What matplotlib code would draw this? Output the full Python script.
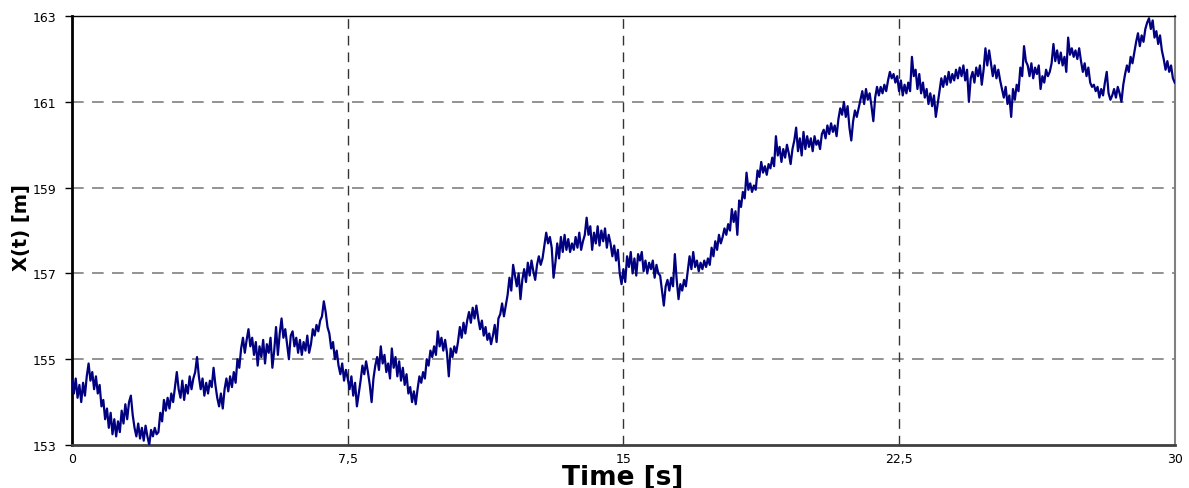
import numpy as np
import matplotlib
matplotlib.use("Agg")
import matplotlib.pyplot as plt

plt.rcParams['font.family'] = ['DejaVu Sans']

t_step = 0.05
x_rows = [
    [154.50, 154.20, 154.55, 154.10, 154.40, 154.00, 154.45, 154.15, 154.60, 154.90, 154.50, 154.70, 154.30, 154.60, 154.20, 154.40, 153.90, 154.05, 153.60, 153.85],
    [153.40, 153.75, 153.25, 153.60, 153.20, 153.55, 153.30, 153.80, 153.50, 153.95, 153.60, 154.00, 154.15, 153.70, 153.40, 153.20, 153.50, 153.15, 153.40, 153.10],
    [153.45, 153.20, 153.00, 153.35, 153.20, 153.40, 153.25, 153.30, 153.75, 153.55, 154.05, 153.80, 154.10, 153.85, 154.20, 154.00, 154.35, 154.70, 154.30, 154.10],
    [154.50, 154.05, 154.40, 154.20, 154.60, 154.30, 154.55, 154.70, 155.05, 154.60, 154.30, 154.55, 154.15, 154.45, 154.20, 154.50, 154.35, 154.80, 154.40, 154.10],
    [153.90, 154.20, 153.85, 154.30, 154.55, 154.25, 154.60, 154.35, 154.70, 154.45, 155.00, 154.80, 155.25, 155.50, 155.15, 155.45, 155.70, 155.30, 155.50, 155.10],
    [155.40, 154.85, 155.30, 155.05, 155.45, 154.90, 155.35, 155.15, 155.50, 154.80, 155.20, 155.75, 155.10, 155.60, 155.95, 155.50, 155.70, 155.35, 155.00, 155.55],
    [155.65, 155.30, 155.50, 155.15, 155.45, 155.10, 155.40, 155.20, 155.55, 155.15, 155.35, 155.70, 155.55, 155.80, 155.65, 155.90, 156.00, 156.35, 156.10, 155.75],
    [155.60, 155.25, 155.40, 155.00, 155.20, 154.85, 154.65, 154.90, 154.50, 154.75, 154.55, 154.30, 154.60, 154.15, 154.45, 153.90, 154.20, 154.50, 154.85, 154.65],
    [154.95, 154.70, 154.40, 154.00, 154.55, 154.85, 155.05, 154.75, 155.30, 154.90, 155.10, 154.70, 154.90, 154.55, 155.25, 154.80, 155.05, 154.60, 154.95, 154.50],
    [154.80, 154.40, 154.65, 154.20, 154.35, 154.00, 154.25, 153.95, 154.30, 154.60, 154.45, 154.70, 154.55, 155.00, 154.85, 155.20, 155.05, 155.30, 155.10, 155.65],
    [155.30, 155.50, 155.20, 155.45, 155.15, 154.60, 155.25, 155.05, 155.30, 155.15, 155.40, 155.75, 155.50, 155.85, 155.60, 155.90, 156.10, 155.85, 156.20, 155.95],
    [156.25, 155.95, 155.70, 155.90, 155.55, 155.75, 155.45, 155.60, 155.35, 155.55, 155.80, 155.40, 155.95, 156.05, 156.30, 156.00, 156.25, 156.50, 156.90, 156.60],
    [157.20, 156.95, 156.70, 157.00, 156.40, 156.85, 157.10, 156.80, 157.25, 156.95, 157.30, 157.05, 156.85, 157.20, 157.40, 157.20, 157.35, 157.65, 157.95, 157.70],
    [157.85, 157.60, 156.90, 157.25, 157.70, 157.35, 157.85, 157.50, 157.90, 157.55, 157.80, 157.50, 157.70, 157.55, 157.85, 157.60, 157.95, 157.55, 157.75, 157.90],
    [158.30, 157.90, 158.10, 157.55, 157.95, 157.70, 158.10, 157.65, 158.00, 157.75, 158.05, 157.60, 157.90, 157.70, 157.40, 157.65, 157.30, 157.55, 157.00, 156.75],
    [157.10, 156.80, 157.40, 157.15, 157.50, 157.00, 157.35, 156.95, 157.45, 157.30, 157.50, 157.05, 157.30, 157.00, 157.25, 157.10, 157.30, 156.90, 157.20, 157.00],
    [156.95, 156.60, 156.25, 156.70, 156.85, 156.60, 156.90, 156.70, 157.45, 156.85, 156.40, 156.75, 156.60, 156.85, 156.70, 157.05, 157.40, 157.10, 157.50, 157.15],
    [157.30, 157.05, 157.25, 157.10, 157.30, 157.15, 157.35, 157.20, 157.60, 157.40, 157.75, 157.55, 157.90, 157.70, 157.85, 158.05, 157.90, 158.15, 158.00, 158.50],
    [158.20, 158.45, 157.90, 158.70, 158.55, 158.90, 158.75, 159.35, 158.95, 159.10, 158.90, 159.05, 158.95, 159.40, 159.25, 159.60, 159.35, 159.50, 159.30, 159.55],
    [159.45, 159.70, 159.50, 160.20, 159.75, 159.95, 159.60, 159.90, 159.70, 160.00, 159.80, 159.55, 159.90, 160.10, 160.40, 159.85, 160.15, 159.75, 160.30, 159.90],
    [160.20, 159.95, 160.15, 159.85, 160.20, 160.00, 160.10, 159.90, 160.25, 160.35, 160.15, 160.45, 160.25, 160.50, 160.30, 160.45, 160.20, 160.60, 160.85, 160.70],
    [161.00, 160.65, 160.90, 160.40, 160.10, 160.55, 160.80, 160.65, 160.85, 161.05, 161.25, 160.95, 161.30, 161.05, 161.20, 160.90, 160.55, 161.10, 161.35, 161.15],
    [161.35, 161.20, 161.40, 161.25, 161.50, 161.70, 161.55, 161.65, 161.45, 161.60, 161.25, 161.50, 161.15, 161.40, 161.20, 161.45, 161.25, 162.05, 161.60, 161.75],
    [161.30, 161.65, 161.20, 161.45, 161.10, 161.30, 160.95, 161.20, 160.90, 161.15, 160.65, 160.95, 161.25, 161.55, 161.35, 161.60, 161.40, 161.70, 161.45, 161.65],
    [161.50, 161.75, 161.55, 161.80, 161.60, 161.85, 161.50, 161.75, 161.00, 161.55, 161.70, 161.45, 161.80, 161.60, 161.85, 161.40, 161.75, 162.25, 161.85, 162.20],
    [161.90, 161.60, 161.85, 161.55, 161.75, 161.50, 161.30, 161.10, 161.35, 160.95, 161.15, 160.65, 161.30, 161.05, 161.40, 161.25, 161.80, 161.60, 162.30, 161.95],
    [161.85, 161.60, 161.90, 161.55, 161.80, 161.65, 161.85, 161.30, 161.60, 161.45, 161.75, 161.60, 161.70, 161.90, 162.35, 161.95, 162.20, 161.90, 162.15, 161.85],
    [162.05, 161.70, 162.50, 162.10, 162.25, 162.05, 162.20, 162.00, 162.25, 161.95, 161.70, 161.90, 161.60, 161.80, 161.45, 161.35, 161.40, 161.25, 161.35, 161.10],
    [161.30, 161.15, 161.45, 161.70, 161.20, 161.05, 161.15, 161.30, 161.10, 161.35, 161.20, 161.00, 161.40, 161.65, 161.85, 161.70, 162.05, 161.90, 162.15, 162.40],
    [162.60, 162.30, 162.55, 162.40, 162.70, 162.85, 162.95, 162.70, 162.90, 162.50, 162.65, 162.35, 162.55, 162.20, 162.00, 161.75, 161.95, 161.70, 161.85, 161.55],
    [161.45],
]

x_ticks = [0, 7.5, 15, 22.5, 30]
x_tick_labels = ["0", "7,5", "15", "22,5", "30"]
y_ticks = [153, 155, 157, 159, 161, 163]

x_vals = np.concatenate([np.array(r) for r in x_rows])
t_vals = np.arange(len(x_vals)) * t_step

fig = plt.figure(figsize=(11.89, 4.89), dpi=100)
ax = fig.add_axes([0.0606, 0.088, 0.9274, 0.877])

# gridlines: grey horizontal, dark vertical
for yv in y_ticks[1:-1]:
    ax.axhline(yv, color="#808080", lw=1.2, ls=(0, (7, 5)), zorder=1)
for xv in x_ticks[1:-1]:
    ax.axvline(xv, color="#333333", lw=1.0, ls=(0, (7, 5)), zorder=1)

ax.plot(t_vals, x_vals, color="#000080", lw=1.6, zorder=3)

ax.set_xlim(0, 30)
ax.set_ylim(153, 163)
ax.set_xticks(x_ticks)
ax.set_xticklabels(x_tick_labels)
ax.set_yticks(y_ticks)
ax.tick_params(axis="both", labelsize=9, colors="black")
ax.tick_params(axis="y", length=5, width=1, direction="out", pad=6)
ax.tick_params(axis="x", length=0, pad=5)

ax.spines["left"].set_linewidth(2)
ax.spines["left"].set_color("black")
ax.spines["top"].set_linewidth(1)
ax.spines["top"].set_color("black")
ax.spines["right"].set_linewidth(1.5)
ax.spines["right"].set_color("#808080")
ax.spines["bottom"].set_linewidth(2)
ax.spines["bottom"].set_color("#404040")

fig.text(0.524, -0.004, "Time [s]", ha="center", va="bottom",
         fontsize=19, fontweight="bold")
fig.text(0.018, 0.535, "X(t) [m]", ha="center", va="center",
         rotation=90, fontsize=14, fontweight="bold")

fig.savefig("out.png", dpi=100)
